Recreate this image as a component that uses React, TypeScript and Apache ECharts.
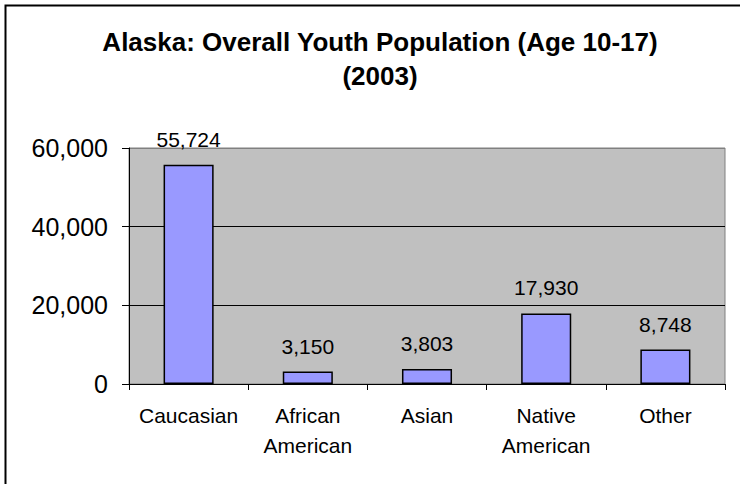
import React, { useEffect, useRef } from "react";
import * as echarts from "echarts";

const titleLines = ["Alaska: Overall Youth Population (Age 10-17)", "(2003)"];
const categories = ["Caucasian", "African\nAmerican", "Asian", "Native\nAmerican", "Other"];
const populationValues = [55724, 3150, 3803, 17930, 8748];
const yTicks = { min: 0, max: 60000, interval: 20000 };

const FONT = "'Liberation Sans', Arial, sans-serif";
const fmt = (v: number) => v.toLocaleString("en-US");

export default function App() {
  const ref = useRef<HTMLDivElement>(null);
  useEffect(() => {
    document.body.style.margin = "0";
    if (!ref.current) return;
    const chart = echarts.init(ref.current, null, { renderer: "svg" });
    chart.setOption({
      animation: false,
      backgroundColor: "#ffffff",
      title: {
        text: titleLines.join("\n"),
        left: 375,
        top: 20,
        textAlign: "center",
        textStyle: {
          fontFamily: FONT,
          fontSize: 26,
          fontWeight: "bold",
          color: "#000",
          lineHeight: 34,
        },
      },
      graphic: [
        {
          type: "rect",
          shape: { x: 5.5, y: 5.5, width: 800, height: 600 },
          style: { fill: "none", stroke: "#000", lineWidth: 2 },
          silent: true,
          z: 100,
        },
      ],
      grid: {
        left: 129,
        right: 15,
        top: 148,
        bottom: 100,
        show: true,
        backgroundColor: "#c0c0c0",
        borderColor: "#808080",
        borderWidth: 1,
        containLabel: false,
      },
      xAxis: {
        type: "category",
        data: categories,
        axisLine: { show: true, lineStyle: { color: "#000", width: 1 } },
        axisTick: { show: true, length: 6, lineStyle: { color: "#000" } },
        axisLabel: {
          fontFamily: FONT,
          fontSize: 21,
          color: "#000",
          lineHeight: 30,
          margin: 16,
          interval: 0,
        },
      },
      yAxis: {
        type: "value",
        min: yTicks.min,
        max: yTicks.max,
        interval: yTicks.interval,
        axisLine: { show: true, lineStyle: { color: "#000", width: 1 } },
        axisTick: { show: true, length: 7, lineStyle: { color: "#000" } },
        axisLabel: {
          fontFamily: FONT,
          fontSize: 25,
          color: "#000",
          margin: 21,
          formatter: (v: number) => fmt(v),
        },
        splitLine: {
          show: true,
          lineStyle: { color: ["#000", "#000", "#000", "#808080"], width: 1 },
        },
      },
      series: [
        {
          type: "bar",
          data: populationValues,
          barCategoryGap: "58%",
          itemStyle: { color: "#9999ff", borderColor: "#000", borderWidth: 1.5 },
          label: {
            show: true,
            position: "top",
            distance: 15,
            fontFamily: FONT,
            fontSize: 21,
            color: "#000",
            formatter: (p: any) => fmt(p.value),
          },
        },
      ],
    });
    return () => chart.dispose();
  }, []);
  return <div ref={ref} style={{ width: 740, height: 484 }} />;
}
